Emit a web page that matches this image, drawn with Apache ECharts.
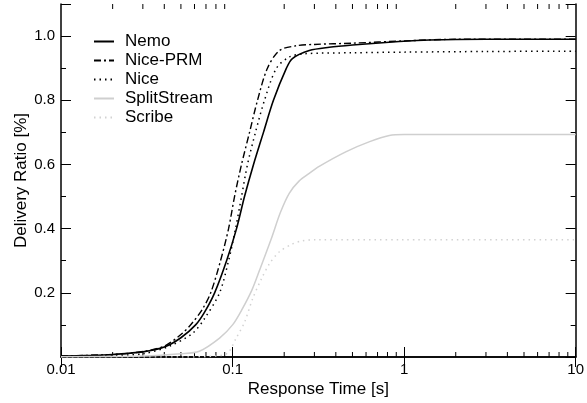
<!DOCTYPE html>
<html>
<head>
<meta charset="utf-8">
<script src="https://cdn.jsdelivr.net/npm/echarts@6/dist/echarts.min.js"></script>
<style>
  html, body { margin: 0; padding: 0; background: #fff; }
  #main { width: 587px; height: 403px; }
</style>
</head>
<body>
<div id="main"></div>
<script>
// x values are response times [s], y values delivery ratio
const nemoT = [0.01, 0.015, 0.02, 0.03, 0.04, 0.05, 0.0609, 0.0687, 0.0786, 0.0923, 0.1055, 0.1174, 0.1325, 0.1514, 0.1731, 0.2061, 0.2233, 0.28, 0.366, 0.5, 0.935, 1.4, 3, 10]
const nemoY = [0.003, 0.005, 0.008, 0.016, 0.031, 0.06, 0.1, 0.14, 0.2, 0.3, 0.4, 0.5, 0.6, 0.7, 0.8, 0.9, 0.93, 0.955, 0.965, 0.972, 0.983, 0.988, 0.99, 0.99]

const prmT = [0.01, 0.02, 0.03, 0.04, 0.05, 0.058, 0.0669, 0.0746, 0.0851, 0.0948, 0.1027, 0.1128, 0.1256, 0.1398, 0.1597, 0.1876, 0.2356, 0.3, 0.5, 1, 2, 10]
const prmY = [0.003, 0.008, 0.017, 0.034, 0.07, 0.105, 0.15, 0.2, 0.3, 0.4, 0.5, 0.6, 0.7, 0.8, 0.9, 0.955, 0.97, 0.974, 0.978, 0.985, 0.99, 0.99]

const niceT = [0.01, 0.02, 0.03, 0.043, 0.0585, 0.0687, 0.084, 0.0948, 0.1041, 0.1128, 0.1222, 0.136, 0.1535, 0.1803, 0.2145, 0.2622, 0.5, 1, 3, 10]
const niceY = [0.002, 0.005, 0.01, 0.034, 0.074, 0.12, 0.2, 0.3, 0.4, 0.5, 0.6, 0.7, 0.8, 0.9, 0.935, 0.945, 0.948, 0.95, 0.952, 0.953]

const splitT = [0.01, 0.03, 0.05, 0.064, 0.084, 0.1, 0.114, 0.13, 0.1436, 0.1686, 0.19, 0.214, 0.244, 0.28, 0.32, 0.46, 0.63, 0.82, 1, 10]
const splitY = [0.001, 0.003, 0.01, 0.018, 0.059, 0.1, 0.15, 0.21, 0.27, 0.37, 0.45, 0.51, 0.548, 0.572, 0.594, 0.64, 0.671, 0.69, 0.693, 0.693]

const scribeT = [0.01, 0.05, 0.08, 0.0935, 0.105, 0.1178, 0.1306, 0.1475, 0.164, 0.1875, 0.223, 0.255, 0.3, 1, 10]
const scribeY = [0, 0, 0.003, 0.012, 0.059, 0.11, 0.18, 0.244, 0.29, 0.328, 0.352, 0.362, 0.365, 0.365, 0.365]

const seriesNames = ['Nemo', 'Nice-PRM', 'Nice', 'SplitStream', 'Scribe']
const yTicks = [0.2, 0.4, 0.6, 0.8, 1.0]
// minor ticks of the log axis (2..9 of each decade)
const xMinorTicks = [0.02, 0.03, 0.04, 0.05, 0.06, 0.07, 0.08, 0.09,
  0.2, 0.3, 0.4, 0.5, 0.6, 0.7, 0.8, 0.9,
  2, 3, 4, 5, 6, 7, 8, 9]

function pairs(xs, ys) {
  return xs.map((x, i) => [x, ys[i]])
}

const font = 'Liberation Sans, Arial, Helvetica, sans-serif'
const black = '#000'
const grey = '#cfcfcf'
const greyDot = '#d2d2d2'

const chart = echarts.init(document.getElementById('main'))

const axisLine = { show: true, lineStyle: { color: black, width: 1.5 } }

function lineSeries(name, xs, ys, color, width, type) {
  return {
    name: name,
    type: 'line',
    smooth: 0.3,
    symbol: 'none',
    lineStyle: { color: color, width: width, type: type },
    itemStyle: { color: color },
    data: pairs(xs, ys)
  }
}

const option = {
  animation: false,
  backgroundColor: '#fff',
  textStyle: { fontFamily: font },
  grid: { left: 61, right: 10, top: 4, bottom: 44 },
  legend: {
    data: seriesNames,
    orient: 'vertical',
    left: 88,
    top: 28,
    itemWidth: 20,
    itemHeight: 19,
    itemGap: 2,
    itemStyle: { opacity: 0 },
    textStyle: { fontSize: 17, color: black, fontFamily: font, padding: [0, 0, 0, 6] }
  },
  xAxis: [
    {
      type: 'log',
      logBase: 10,
      min: 0.01,
      max: 10,
      name: 'Response Time [s]',
      nameLocation: 'middle',
      nameGap: 24,
      nameMoveOverlap: false,
      nameTextStyle: { fontSize: 17, color: black, fontFamily: font },
      axisLine: axisLine,
      axisTick: { show: true, inside: true, length: 10, lineStyle: { color: black } },
      axisLabel: {
        fontSize: 15, color: black, margin: 5, fontFamily: font,
        formatter: v => String(+Number(v).toPrecision(3))
      },
      splitLine: { show: false }
    },
    {
      type: 'log',
      logBase: 10,
      min: 0.01,
      max: 10,
      position: 'top',
      axisLine: axisLine,
      axisTick: { show: true, inside: true, length: 10, lineStyle: { color: black } },
      axisLabel: { show: false },
      splitLine: { show: false }
    }
  ],
  yAxis: [
    {
      type: 'value',
      min: 0,
      max: 1.1,
      interval: 0.2,
      name: 'Delivery Ratio [%]',
      nameLocation: 'middle',
      nameGap: 31,
      nameMoveOverlap: false,
      nameTextStyle: { fontSize: 17, color: black, fontFamily: font },
      axisLine: axisLine,
      axisTick: { show: true, inside: true, length: 10, lineStyle: { color: black } },
      minorTick: { show: true, splitNumber: 2, length: 5, lineStyle: { color: black } },
      axisLabel: {
        fontSize: 15, color: black, margin: 6, fontFamily: font,
        formatter: v => yTicks.indexOf(+v.toFixed(1)) < 0 ? '' : v.toFixed(1)
      },
      splitLine: { show: false }
    },
    {
      type: 'value',
      min: 0,
      max: 1.1,
      interval: 0.2,
      position: 'right',
      axisLine: axisLine,
      axisTick: { show: true, inside: true, length: 10, lineStyle: { color: black } },
      minorTick: { show: true, splitNumber: 2, length: 5, lineStyle: { color: black } },
      axisLabel: { show: false },
      splitLine: { show: false }
    }
  ],
  series: [
    lineSeries('Nemo', nemoT, nemoY, black, 1.6, 'solid'),
    lineSeries('Nice-PRM', prmT, prmY, black, 1.4, [7, 3, 2, 3]),
    lineSeries('Nice', niceT, niceY, black, 1.5, [1.5, 4]),
    lineSeries('SplitStream', splitT, splitY, grey, 1.5, 'solid'),
    lineSeries('Scribe', scribeT, scribeY, greyDot, 1.5, [1.5, 4]),
    {
      // minor ticks on bottom and top log axes
      type: 'custom',
      silent: true,
      clip: false,
      data: xMinorTicks.map(v => [v, 0]),
      renderItem: function(params, api) {
        const v = api.value(0)
        const b = api.coord([v, 0])
        const t = api.coord([v, 1.1])
        return {
          type: 'group',
          children: [
            { type: 'line', shape: { x1: b[0], y1: b[1], x2: b[0], y2: b[1] - 5 }, style: { stroke: black, lineWidth: 1 } },
            { type: 'line', shape: { x1: t[0], y1: t[1], x2: t[0], y2: t[1] + 5 }, style: { stroke: black, lineWidth: 1 } }
          ]
        }
      }
    }
  ]
}

chart.setOption(option)
</script>
</body>
</html>
